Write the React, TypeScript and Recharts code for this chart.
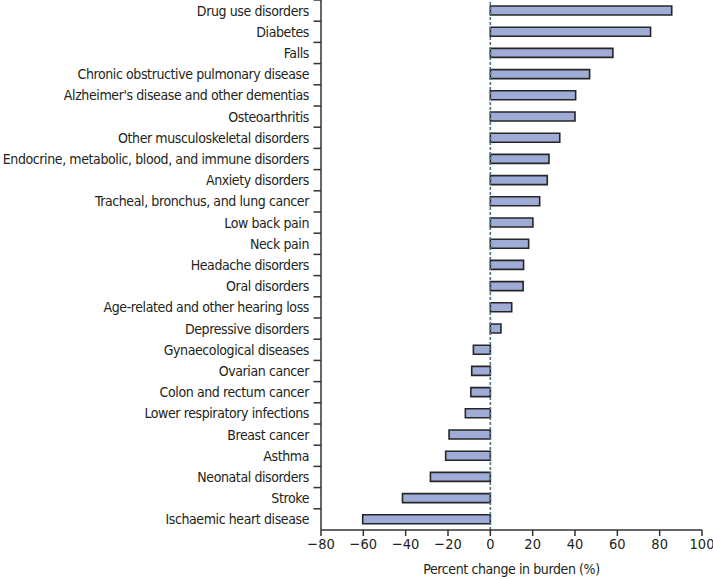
import React from 'react';
import { BarChart, Bar, XAxis, YAxis, ReferenceLine, Label } from 'recharts';

const causes = [
  'Drug use disorders',
  'Diabetes',
  'Falls',
  'Chronic obstructive pulmonary disease',
  "Alzheimer's disease and other dementias",
  'Osteoarthritis',
  'Other musculoskeletal disorders',
  'Endocrine, metabolic, blood, and immune disorders',
  'Anxiety disorders',
  'Tracheal, bronchus, and lung cancer',
  'Low back pain',
  'Neck pain',
  'Headache disorders',
  'Oral disorders',
  'Age-related and other hearing loss',
  'Depressive disorders',
  'Gynaecological diseases',
  'Ovarian cancer',
  'Colon and rectum cancer',
  'Lower respiratory infections',
  'Breast cancer',
  'Asthma',
  'Neonatal disorders',
  'Stroke',
  'Ischaemic heart disease',
];

const percentChange = [
  85.7, 75.7, 57.9, 46.9, 40.3, 40.0, 32.8, 27.7, 26.9, 23.3, 20.1, 18.1, 15.7,
  15.5, 10.1, 5.0, -8.0, -8.8, -9.2, -11.8, -19.5, -21.1, -28.3, -41.5, -60.3,
];

const xTicks = [-80, -60, -40, -20, 0, 20, 40, 60, 80, 100];

const data = causes.map((name, i) => ({ name, value: percentChange[i] }));

const FONT = "'DejaVu Sans Condensed', 'Liberation Sans', sans-serif";
const AXIS = '#333333';
const TEXT = '#231f20';

const CHART_H = 579;
const PLOT_TOP = 0;
const XAXIS_H = 49;
const BAND = (CHART_H - PLOT_TOP - XAXIS_H) / causes.length;

const YTick = (props: any) => {
  const { x, y, payload } = props;
  const axisX = x + 12;
  return (
    <g>
      <line x1={axisX - 7.5} x2={axisX} y1={y - BAND / 2} y2={y - BAND / 2} stroke={AXIS} strokeWidth={1.5} />
      <text
        x={x}
        y={y}
        dy="0.35em"
        textAnchor="end"
        fontSize={14}
        letterSpacing={-0.4}
        fontFamily={FONT}
        fill={TEXT}
      >
        {payload.value}
      </text>
    </g>
  );
};

const fmt = (v: number) => String(v).replace('-', '\u2212');

export default function App() {
  return (
    <div style={{ position: 'absolute', left: 0, top: 0, background: '#fff' }}>
      <BarChart
        width={713}
        height={CHART_H}
        data={data}
        layout="vertical"
        margin={{ top: PLOT_TOP, right: 11, left: 0, bottom: 0 }}
        barCategoryGap={0}
      >
        <XAxis
          type="number"
          domain={[-80, 100]}
          ticks={xTicks}
          tickFormatter={fmt}
          height={XAXIS_H}
          stroke={AXIS}
          strokeWidth={1.5}
          tickSize={6}
          tickMargin={3}
          tick={{ fontSize: 14.5, fontFamily: FONT, fill: TEXT }}
          interval={0}
        >
          <Label
            value="Percent change in burden (%)"
            position="insideBottom"
            offset={5}
            style={{ fontSize: 14, fontFamily: FONT, fill: TEXT, letterSpacing: -0.4 }}
          />
        </XAxis>
        <YAxis
          type="category"
          dataKey="name"
          width={321}
          stroke={AXIS}
          strokeWidth={1.5}
          tickLine={false}
          tickSize={0}
          tickMargin={12}
          tick={<YTick />}
          interval={0}
        />
        <Bar
          dataKey="value"
          fill="#a0acd8"
          stroke="#262626"
          strokeWidth={1.6}
          barSize={9}
          isAnimationActive={false}
        />
        <ReferenceLine x={0} stroke="#4d7282" strokeWidth={1.6} strokeDasharray="3 2" />
      </BarChart>
    </div>
  );
}
